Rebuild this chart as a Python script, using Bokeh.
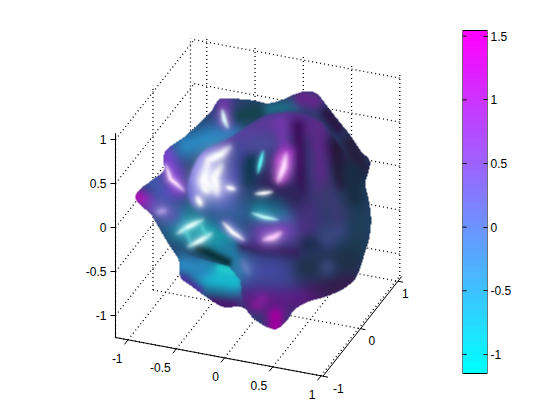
import numpy as np
from bokeh.core.properties import value
from bokeh.embed import file_html
from bokeh.layouts import row
from bokeh.models import FixedTicker, LinearColorMapper, Range1d
from bokeh.plotting import figure
from bokeh.resources import INLINE

# ---- axis data
x_ticks = [-1, -0.5, 0, 0.5, 1]
y_ticks = [-1, 0, 1]
z_ticks = [-1, -0.5, 0, 0.5, 1]
x_labels = ["-1", "-0.5", "0", "0.5", "1"]
y_labels = ["-1", "0", "1"]
z_labels = ["-1", "-0.5", "0", "0.5", "1"]
x_lim = [-1.13, 1.02]
y_lim = [-1.0, 1.1]
z_lim = [-1.25, 1.07]
c_lim = [-1.15, 1.545]
c_ticks = [-1, -0.5, 0, 0.5, 1, 1.5]
c_labels = ["-1", "-0.5", "0", "0.5", "1", "1.5"]
FONT = "Liberation Sans"

# ---- blob outline (crop units: 3 per pixel, origin 120,80)
outline = [(300,55),(350,55),(400,60),(440,68),(480,60),(520,42),(560,32),(590,40),(615,70),
 (650,115),(690,165),(720,210),(748,240),(745,270),(735,310),(745,360),(752,420),(745,480),
 (735,510),(720,560),(700,600),(660,630),(610,650),(560,665),(520,690),(500,720),(470,745),
 (440,740),(400,715),(365,680),(310,680),(265,655),(210,615),(180,590),(175,540),(150,500),
 (120,450),(90,400),(60,375),(45,350),(60,325),(100,295),(130,270),(128,235),(140,205),
 (190,170),(240,125),(270,95),(285,70)]
base_colour = "#28406f"
# x0, y0, x1, y1, width, colour, opacity
back_strokes = [
 (700,300,700,500,42,"#1c3d55",1),(690,190,720,260,28,"#262040",1),(560,640,680,600,34,"#3a1a50",1),
 (400,650,540,650,36,"#5c1a80",1),(465,735,465,705,20,"#a000a0",1),(410,672,425,655,16,"#8a1a9a",.8),
 (380,570,500,575,40,"#4448a0",1),(560,560,680,540,38,"#1e3048",.9),(620,560,620,560,20,"#38487a",.9),
 (190,430,300,475,42,"#1898a8",1),(330,510,345,570,28,"#2080a8",.9),
 (235,505,320,545,11,"#0a3238",.95),
 (50,350,90,365,20,"#b010b8",1),(105,375,150,400,26,"#5c50b0",.85),(100,300,130,340,24,"#405ab0",.9),
 (140,225,170,320,26,"#7c40cc",1),(200,195,330,150,30,"#2a86c0",1),
 (310,72,320,115,24,"#6a3aa8",1),(365,105,410,95,22,"#17434f",1),(450,85,520,75,15,"#1f6a85",1),
 (545,52,580,62,22,"#63288a",1),(620,100,650,140,16,"#2a1845",1),
 (560,390,560,440,36,"#46307c",1),(560,490,590,490,18,"#1c2a4a",.9),(620,470,650,450,24,"#38467f",1),
 (370,495,520,515,16,"#361a58",.75),
]
mound_polygon = [(240,222),(330,170),(390,130),(450,100),(530,95),(590,115),(640,170),(690,240),
 (770,300),(770,520),(560,540),(440,520),(340,480),(240,410),(200,330)]
mound_strokes = [
 (270,225,340,190,28,"#5a4fb0",1),(340,190,420,150,30,"#5c3fa0",1),(430,130,520,130,30,"#5a3a98",1),
 (520,125,590,140,24,"#5a2c8c",1),(600,180,650,230,20,"#3a1e60",1),
 (480,130,490,210,20,"#7038a8",1),(535,140,540,320,17,"#3a0c58",.9),(592,150,605,320,23,"#5c2a88",.95),
 (650,190,660,310,19,"#241838",.9),(700,260,700,350,22,"#182c44",.9),
 (240,240,225,330,34,"#5a5ad0",1),(350,210,340,290,24,"#3c4194",1),(400,190,440,190,22,"#4a4a98",1),
 (392,250,385,300,19,"#0c3850",1),(450,240,450,270,16,"#3a3a78",1),(500,220,490,290,18,"#a030c0",1),
 (450,305,520,345,30,"#30245c",1),(620,340,650,400,26,"#3a3a70",1),
 (380,365,470,375,18,"#20486c",1),(290,380,350,400,28,"#2a5a90",1),(420,400,480,420,24,"#1a98a8",.9),
 (430,460,490,450,30,"#7040b0",1),(230,250,300,330,42,"#8a80e8",.75),(480,240,480,290,16,"#c040d0",.8),
 (320,435,365,475,16,"#6a60c0",.7),
]
lobe_polygon = [(150,495),(225,530),(325,558),(360,600),(370,700),(100,700)]
lobe_strokes = [
 (260,590,340,600,30,"#18b8d0",1),(300,565,335,570,14,"#20d0d0",.9),(190,555,240,565,24,"#2a88c0",1),
 (185,600,230,630,14,"#5030a0",.9),(270,665,340,675,12,"#4a1a70",1),
]
# polyline points, width, colour, opacity
highlights = [
 ([(330,198),(300,222),(265,238),(255,265)],10,"#ffffff",1),
 ([(262,255),(250,300),(282,330)],13,"#ffffff",1),
 ([(305,250),(282,290),(292,345)],10,"#ffffff",1),
 ([(245,315),(262,335)],7,"#ffffff",.9),
 ([(230,350),(242,374)],7,"#ffffff",1),
 ([(318,320),(342,326)],5,"#ffffff",1),
 ([(405,340),(430,338),(455,334)],4,"#ffffff",1),
 ([(428,212),(420,245),(412,278)],4,"#60ffff",1),
 ([(497,218),(490,260),(472,305)],7,"#ffe0ff",1),
 ([(135,250),(150,295),(192,332)],5,"#ffe0ff",1),
 ([(305,88),(312,120),(322,142)],5,"#e0ffff",1),
 ([(395,398),(430,410),(472,418)],4,"#c0ffff",1),
 ([(308,426),(335,455),(370,478)],5,"#ffffff",1),
 ([(428,478),(460,470),(482,456)],7,"#ffd0ff",1),
 ([(170,460),(205,438),(248,418)],6,"#e8ffff",1),
 ([(203,498),(240,480),(274,458)],6,"#e8ffff",1),
 ([(190,440),(215,495)],5,"#60e0e0",.5),
 ([(235,425),(262,470)],5,"#60e0e0",.5),
 ([(112,395),(135,390)],8,"#b0a0e8",.8),
 ([(365,540),(385,580)],9,"#6a80c0",.7),
]

# ---- projection of the axes box to page pixels
def proj(x, y, z):
    x = np.asarray(x, float); y = np.asarray(y, float); z = np.asarray(z, float)
    px = 115 + 96.5 * (x - x_lim[0]) + 37.5 * (y - y_lim[0])
    py = 337 + 18 * (x - x_lim[0]) - 47.5 * (y - y_lim[0]) - 88 * (z - z_lim[0])
    return px, 420 - py

p = figure(width=454, height=404, x_range=Range1d(0, 454), y_range=Range1d(16, 420),
           output_backend="svg", toolbar_location=None, min_border=0)
p.xaxis.visible = False; p.yaxis.visible = False; p.grid.visible = False
p.outline_line_color = None

# ---- dotted grid
gx0, gy0, gz0, gx1, gy1, gz1 = [], [], [], [], [], []
def seg(a, b):
    gx0.append(a[0]); gy0.append(a[1]); gz0.append(a[2]); gx1.append(b[0]); gy1.append(b[1]); gz1.append(b[2])
for t in x_ticks:
    seg((t, y_lim[0], z_lim[0]), (t, y_lim[1], z_lim[0]))
    seg((t, y_lim[1], z_lim[0]), (t, y_lim[1], z_lim[1]))
for t in y_ticks:
    seg((x_lim[0], t, z_lim[0]), (x_lim[1], t, z_lim[0]))
    seg((x_lim[0], t, z_lim[0]), (x_lim[0], t, z_lim[1]))
for t in z_ticks:
    seg((x_lim[0], y_lim[1], t), (x_lim[1], y_lim[1], t))
    seg((x_lim[0], y_lim[0], t), (x_lim[0], y_lim[1], t))
a = proj(gx0, gy0, gz0); b = proj(gx1, gy1, gz1)
p.segment(a[0], a[1], b[0], b[1], line_color="black", line_width=1.3, line_dash="1 3")

# ---- blob raster
def hexrgb(h):
    return np.array([int(h[i:i+2], 16) / 255 for i in (1, 3, 5)])
left, top, w, h = 120, 80, 270, 260
px, py = np.meshgrid(np.arange(w) + .5, np.arange(h) + .5)
ZX, ZY = px * 3, py * 3

def polymask(S):
    X0, Y0 = S[:, 0], S[:, 1]; X1, Y1 = np.roll(X0, -1), np.roll(Y0, -1)
    m = np.zeros(ZX.shape, bool)
    for xa, ya, xb, yb in zip(X0, Y0, X1, Y1):
        if ya == yb:
            continue
        m ^= ((ya > ZY) != (yb > ZY)) & (ZX < (xb - xa) * (ZY - ya) / (yb - ya) + xa)
    return m

def smooth(P, k=8):
    P = np.array(P, float); n = len(P); out = []
    for i in range(n):
        p0, p1, p2_, p3 = P[i-1], P[i], P[(i+1) % n], P[(i+2) % n]
        for t in np.linspace(0, 1, k, endpoint=False):
            out.append(.5 * (2*p1 + (p2_-p0)*t + (2*p0-5*p1+4*p2_-p3)*t*t + (3*p1-p0-3*p2_+p3)*t**3))
    return np.array(out)

def blur(m, s):
    r = int(3 * s) + 1
    k = np.exp(-.5 * (np.arange(-r, r + 1) / s) ** 2); k /= k.sum()
    m = np.apply_along_axis(lambda v: np.convolve(v, k, "same"), 0, m.astype(float))
    return np.apply_along_axis(lambda v: np.convolve(v, k, "same"), 1, m)

def paint(rgb, strokes):
    for x0, y0, x1, y1, wd, col, al in strokes:
        dx, dy = x1 - x0, y1 - y0
        L2 = dx*dx + dy*dy
        t = np.clip(((ZX-x0)*dx + (ZY-y0)*dy) / L2, 0, 1) if L2 else 0
        d2 = (ZX - x0 - t*dx)**2 + (ZY - y0 - t*dy)**2
        g = al * np.exp(-.5 * d2 / (wd*wd))
        rgb = rgb * (1 - g[..., None]) + hexrgb(col) * g[..., None]
    return rgb

def shine(rgb, pts, wd, col, al, glow=2.4, ga=.4):
    P = np.array(pts, float)
    s = np.concatenate([[0], np.cumsum(np.hypot(*np.diff(P, axis=0).T))])
    n = max(3, int(s[-1] / 4))
    ss = np.linspace(0, s[-1], n)
    xs = np.interp(ss, s, P[:, 0]); ys = np.interp(ss, s, P[:, 1])
    tp = np.sin(np.pi * (np.arange(n) + .5) / n) ** .6
    for width, alpha in ((wd * glow, al * ga), (wd, al)):
        g = np.zeros(ZX.shape)
        for x, y, c in zip(xs, ys, tp):
            ww = width * (.5 + .5 * c)
            g = np.maximum(g, c * np.exp(-.5 * ((ZX-x)**2 + (ZY-y)**2) / (ww*ww)))
        g = alpha * g
        rgb = rgb * (1 - g[..., None]) + hexrgb(col) * g[..., None]
    return rgb

rgb = np.ones(ZX.shape + (3,)) * hexrgb(base_colour)
rgb = paint(rgb, back_strokes)
M = blur(polymask(smooth(mound_polygon)), 1.0)[..., None]
rgb = M * paint(rgb.copy(), mound_strokes) + (1 - M) * rgb
M = blur(polymask(np.array(lobe_polygon, float)), .6)[..., None]
rgb = M * paint(rgb.copy(), lobe_strokes) + (1 - M) * rgb
for pts, wd, col, al in highlights:
    rgb = shine(rgb, pts, wd, col, al)
inside = polymask(smooth(outline))
rgba = np.zeros((h, w, 4), np.uint8)
rgba[..., :3] = np.clip(rgb * 255, 0, 255).astype(np.uint8)
rgba[..., 3] = inside * 255
p.image_rgba(image=[rgba[::-1].view(np.uint32).reshape(h, w)], x=[left], y=[420 - top - h], dw=[w], dh=[h])

# ---- axes lines, ticks, labels
corners = [(x_lim[0], y_lim[0], z_lim[1]), (x_lim[0], y_lim[0], z_lim[0]), (x_lim[1], y_lim[0], z_lim[0]), (x_lim[1], y_lim[1], z_lim[0])]
cx, cy = proj(*zip(*corners))
p.line(cx, cy, line_color="black", line_width=1)

ax, ay = proj(x_ticks, [y_lim[0]] * 5, [z_lim[0]] * 5)
p.segment(ax, ay, ax - 3.5, ay - 4.5, line_color="black")
p.text(ax - 5.5, ay - 18.5, text=x_labels, text_font=value(FONT), text_font_size="12px",
       text_align="right", text_baseline="middle", text_color="black")
by, byy = proj([x_lim[1]] * 3, y_ticks, [z_lim[0]] * 3)
p.segment(by, byy, by + 5, byy - 1, line_color="black")
p.text(by + np.array([10, 8, 4]), byy - 12, text=y_labels, text_font=value(FONT), text_font_size="12px",
       text_align="left", text_baseline="middle", text_color="black")
cz, czy = proj([x_lim[0]] * 5, [y_lim[0]] * 5, z_ticks)
p.segment(cz, czy, cz - 5, czy, line_color="black")
p.text(cz - 9, czy, text=z_labels, text_font=value(FONT), text_font_size="12px",
       text_align="right", text_baseline="middle", text_color="black")

# ---- colour bar: frame spans the whole height so the two figures line up
palette = ["#%02x%02x%02x" % (round(255 * i / 63), round(255 * (1 - i / 63)), 255) for i in range(64)]
unit = 343 / (c_lim[1] - c_lim[0])
q = figure(width=90, height=404, frame_width=25, frame_height=404,
           x_range=Range1d(0, 1), y_range=Range1d(c_lim[0] - 31 / unit, c_lim[1] + 30 / unit),
           x_axis_location=None, y_axis_location="right",
           output_backend="svg", toolbar_location=None,
           min_border_left=8, min_border_right=57, min_border_top=0, min_border_bottom=0)
q.grid.visible = False
q.outline_line_color = None
ramp = np.linspace(c_lim[0], c_lim[1], 64).reshape(64, 1)
q.image(image=[ramp], x=[0], y=[c_lim[0]], dw=[1], dh=[c_lim[1] - c_lim[0]],
        color_mapper=LinearColorMapper(palette=palette, low=c_lim[0], high=c_lim[1]))
q.quad(left=[0], right=[1], bottom=[c_lim[0]], top=[c_lim[1]], fill_color=None, line_color="black", line_width=1)
ya = q.yaxis[0]
ya.ticker = FixedTicker(ticks=c_ticks)
ya.major_label_overrides = {t: s for t, s in zip(c_ticks, c_labels)}
ya.major_tick_in = 4; ya.major_tick_out = 0; ya.minor_tick_in = 0; ya.minor_tick_out = 0
ya.major_label_standoff = 3
ya.major_label_text_font = FONT; ya.major_label_text_font_size = "12px"; ya.major_label_text_color = "black"
ya.axis_line_color = None
q.segment([0] * 6, c_ticks, [0.16] * 6, c_ticks, line_color="black")

open("out.html", "w").write(file_html(row(p, q, spacing=0), INLINE))
